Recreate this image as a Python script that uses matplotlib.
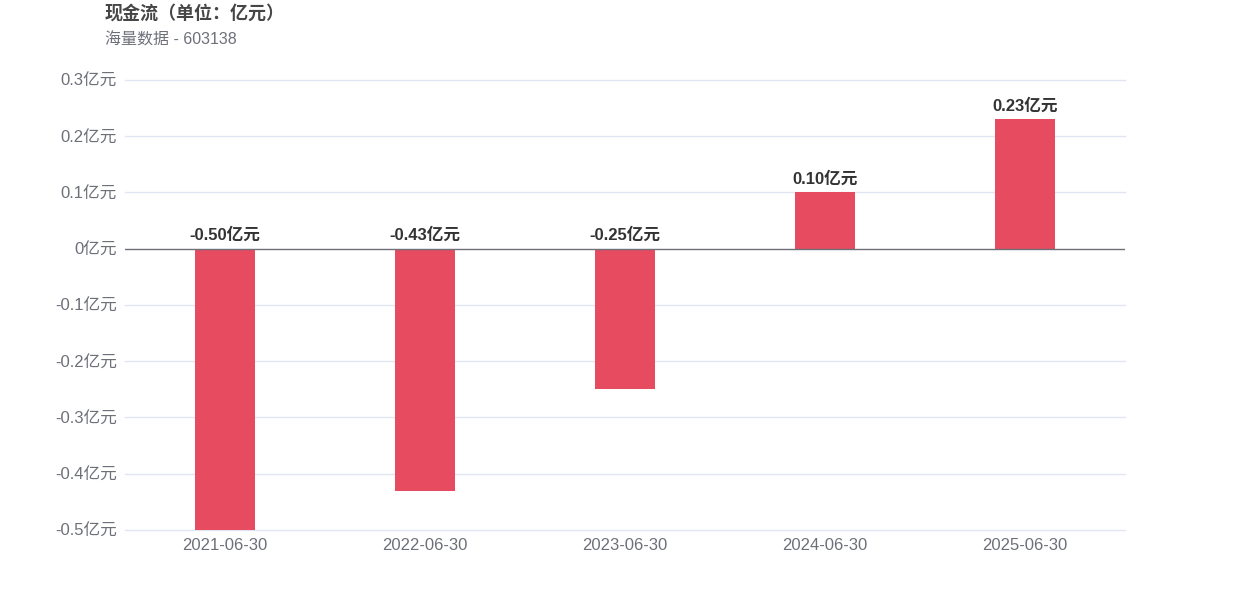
import matplotlib
matplotlib.use('Agg')
import matplotlib.pyplot as plt

plt.rcParams['font.family'] = ['Liberation Sans', 'Noto Sans CJK SC', 'DejaVu Sans']

dates = ['2021-06-30', '2022-06-30', '2023-06-30', '2024-06-30', '2025-06-30']
cash_flow = [-0.50, -0.43, -0.25, 0.10, 0.23]
y_ticks = [-0.5, -0.4, -0.3, -0.2, -0.1, 0, 0.1, 0.2, 0.3]

bar_color = '#E64B5F'
grid_color = '#E0E6F1'
axis_color = '#6E7079'

fig = plt.figure(figsize=(12.5, 6), dpi=100)
ax = fig.add_axes([0.1, 0.1167, 0.8, 0.75])

x = list(range(len(dates)))
ax.bar(x, cash_flow, width=0.3, color=bar_color, zorder=3)

ax.set_xlim(-0.5, len(dates) - 0.5)
ax.set_ylim(-0.5, 0.3)
ax.set_yticks(y_ticks)
ax.set_yticklabels(['0亿元' if v == 0 else f'{v:g}亿元' for v in y_ticks])
ax.set_xticks(x)
ax.set_xticklabels(dates)

for v in y_ticks:
    if v != 0:
        ax.axhline(v, color=grid_color, lw=1, zorder=1, clip_on=False)
ax.axhline(0, color=axis_color, lw=1, zorder=4)

for s in ax.spines.values():
    s.set_visible(False)
ax.tick_params(axis='both', length=0, labelsize=12, colors=axis_color)
ax.tick_params(axis='y', pad=6)
ax.tick_params(axis='x', pad=6)

for xi, v in zip(x, cash_flow):
    top = max(v, 0)
    ax.annotate(f'{v:.2f}亿元', (xi, top), xytext=(0, 4), textcoords='offset points',
                ha='center', va='bottom', fontsize=12, fontweight='bold', color='#333333')

fig.text(0.084, 0.978, '现金流（单位：亿元）', fontsize=13, fontweight='bold',
         color='#464646', ha='left', va='center')
fig.text(0.084, 0.934, '海量数据 - 603138', fontsize=11.5, color=axis_color,
         ha='left', va='center')

fig.savefig('out.png', dpi=100)
